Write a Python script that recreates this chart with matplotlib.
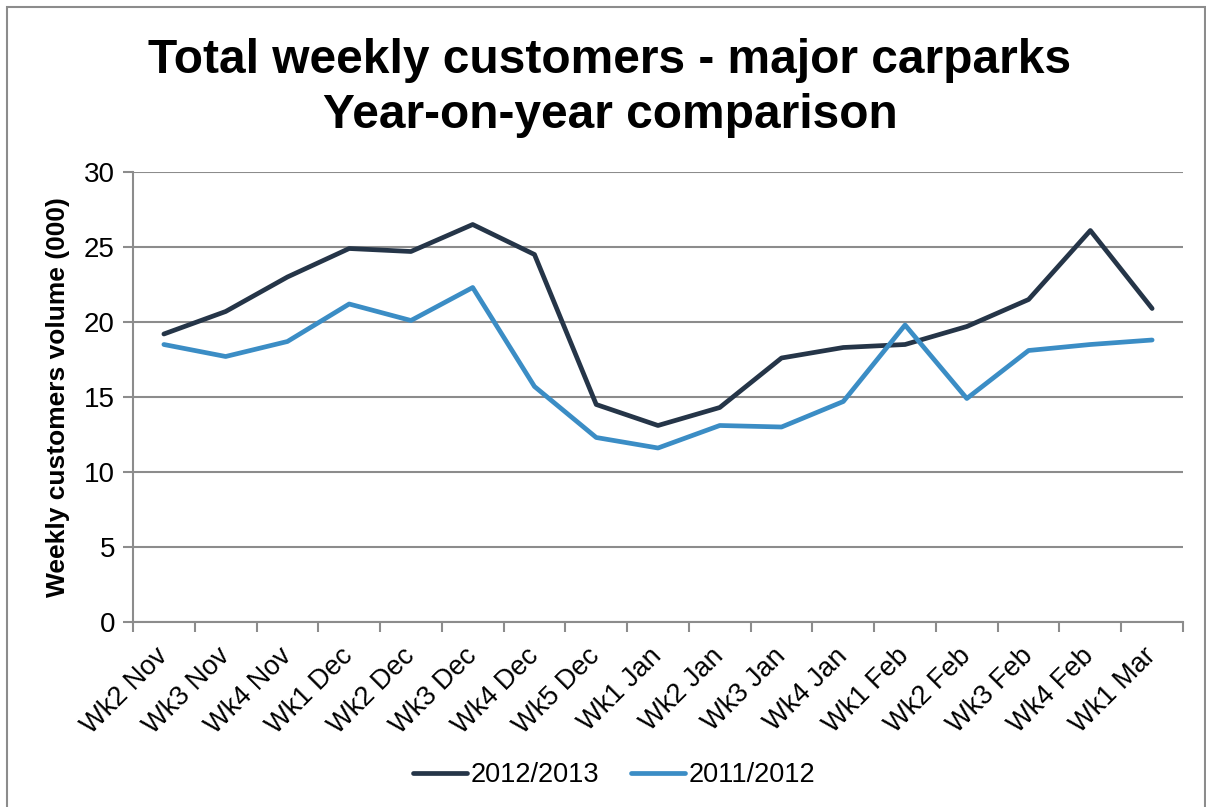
import matplotlib
matplotlib.use("Agg")
import matplotlib.pyplot as plt
from matplotlib.patches import Rectangle

categories = ["Wk2 Nov", "Wk3 Nov", "Wk4 Nov", "Wk1 Dec", "Wk2 Dec", "Wk3 Dec", "Wk4 Dec",
              "Wk5 Dec", "Wk1 Jan", "Wk2 Jan", "Wk3 Jan", "Wk4 Jan", "Wk1 Feb", "Wk2 Feb",
              "Wk3 Feb", "Wk4 Feb", "Wk1 Mar"]
series_2012_2013 = [19.2, 20.7, 23.0, 24.9, 24.7, 26.5, 24.5, 14.5, 13.1, 14.3, 17.6, 18.3,
                    18.5, 19.7, 21.5, 26.1, 20.9]
series_2011_2012 = [18.5, 17.7, 18.7, 21.2, 20.1, 22.3, 15.7, 12.3, 11.6, 13.1, 13.0, 14.7,
                    19.8, 14.9, 18.1, 18.5, 18.8]
yticks = [0, 5, 10, 15, 20, 25, 30]

plt.rcParams['font.family'] = ['Liberation Sans', 'DejaVu Sans']

W, H = 1206, 807
fig = plt.figure(figsize=(W / 100, H / 100), dpi=100)
ax = fig.add_axes([133 / W, 1 - 622 / H, (1183 - 133) / W, (622 - 172) / H])

x = list(range(len(categories)))
ax.plot(x, series_2012_2013, color="#253548", lw=3.4, label="2012/2013", solid_capstyle="round")
ax.plot(x, series_2011_2012, color="#3b8dc5", lw=3.4, label="2011/2012", solid_capstyle="round")

ax.set_xlim(-0.5, len(categories) - 0.5)
ax.set_ylim(0, 30)
ax.set_yticks(yticks)
ax.set_yticklabels([str(v) for v in yticks], fontsize=20)
ax.set_xticks(x)
ax.set_xticklabels(categories, rotation=45, ha="right", va="center", rotation_mode="anchor", fontsize=19.5)
ax.tick_params(axis="x", length=0, pad=22)
ax.set_xticks([i - 0.5 for i in range(len(categories) + 1)], minor=True)
ax.tick_params(axis="x", which="minor", length=7, width=1.5, color="#8c8c8c", direction="out")
ax.tick_params(axis="y", length=7, width=1.5, color="#8c8c8c", direction="out", pad=6)

ax.grid(axis="y", color="#8c8c8c", lw=1.5)
ax.set_axisbelow(True)
for s in ["top", "right"]:
    ax.spines[s].set_visible(False)
for s in ["left", "bottom"]:
    ax.spines[s].set_color("#8c8c8c")
    ax.spines[s].set_linewidth(1.5)

ax.set_ylabel("Weekly customers volume (000)", fontsize=19, fontweight="bold", labelpad=10)

fig.text(610 / W, 1 - 73 / H, "Total weekly customers - major carparks",
         ha="center", va="baseline", fontsize=34.5, fontweight="bold")
fig.text(610 / W, 1 - 128 / H, "Year-on-year comparison",
         ha="center", va="baseline", fontsize=34.5, fontweight="bold")

leg = fig.legend(loc="center", bbox_to_anchor=(614 / W, 1 - 775 / H), ncol=2, frameon=False,
                 fontsize=19.5, handlelength=2.0, handletextpad=0.15, columnspacing=1.15)

fig.patches.append(Rectangle((7 / W, -0.1), (1205 - 7) / W, 1 - 7 / H + 0.1,
                             transform=fig.transFigure, fill=False, edgecolor="#8c8c8c", lw=1.5))

fig.savefig("out.png", dpi=100)
